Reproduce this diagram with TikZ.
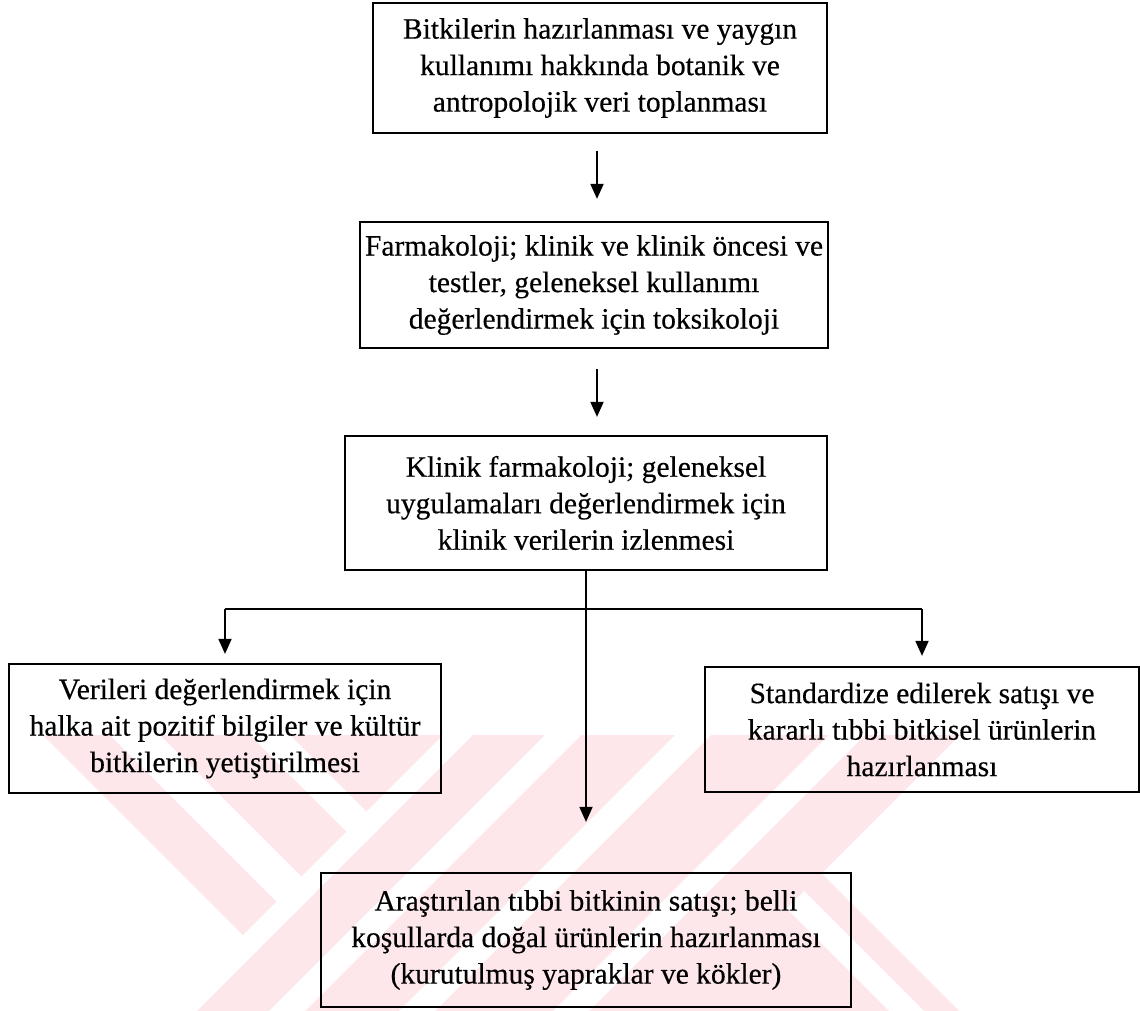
\documentclass[tikz,border=0pt]{standalone}
\usepackage{fontspec}
\setmainfont{Liberation Serif}[BoldFont=Liberation Serif, BoldFeatures={FakeBold=0.4}]
\usetikzlibrary{arrows.meta}
\definecolor{wmpink}{RGB}{253,231,235}
% band of "\" stripes between horizontal offsets #1 and #2
\newcommand\wmback[3]{\fill[#3] (#1+228,600) -- (#2+228,600) -- (#2+728,1100) -- (#1+728,1100) -- cycle;}
% band of "/" stripes between horizontal offsets #1 and #2
\newcommand\wmfwd[3]{\fill[#3] (#1+928,600) -- (#2+928,600) -- (#2+428,1100) -- (#1+428,1100) -- cycle;}
\begin{document}
\begin{tikzpicture}[x=1pt,y=-1pt,
  box/.style={draw=black, line width=2.2pt, align=center, inner sep=0pt,
    font=\fontsize{29.5}{36.5}\selectfont\bfseries},
  link/.style={line width=1.8pt},
  arr/.style={link, -{Triangle[width=13pt,length=15pt]}}]
\useasboundingbox (0,0) rectangle (1140,1011);

% light striped emblem in the lower part of the page
\begin{scope}
  \clip (0,735) rectangle (1140,1011);
  \wmback{-320}{320}{wmpink}
  \wmback{-253}{-203}{white}
  \wmback{-113}{-73}{white}
  \wmback{250}{285}{white}
  \wmfwd{-350}{-320}{white}
  \wmfwd{-320}{167}{wmpink}
  \wmfwd{-248}{-212}{white}
  \wmfwd{-118}{-82}{white}
  \wmfwd{36}{72}{white}
\end{scope}

% boxes
\node[box, minimum width=454pt, minimum height=130pt] (b1) at (600,68)
  {Bitkilerin hazırlanması ve yaygın\\kullanımı hakkında botanik ve\\antropolojik veri toplanması};
\node[box, minimum width=468pt, minimum height=126pt] (b2) at (594,285)
  {Farmakoloji; klinik ve klinik öncesi ve\\testler, geleneksel kullanımı\\değerlendirmek için toksikoloji};
\node[box, minimum width=482pt, minimum height=134pt] (b3) at (586,503)
  {Klinik farmakoloji; geleneksel\\uygulamaları değerlendirmek için\\klinik verilerin izlenmesi};
\node[box, minimum width=432pt, minimum height=129pt] (lb) at (225,728.5)
  {Verileri değerlendirmek için\\halka ait pozitif bilgiler ve kültür\\bitkilerin yetiştirilmesi};
\node[box, minimum width=434pt, minimum height=125pt] (rb) at (922,729.5)
  {Standardize edilerek satışı ve\\kararlı tıbbi bitkisel ürünlerin\\hazırlanması};
\node[box, minimum width=530pt, minimum height=134pt] (bb) at (586,940)
  {Araştırılan tıbbi bitkinin satışı; belli\\koşullarda doğal ürünlerin hazırlanması\\(kurutulmuş yapraklar ve kökler)};

% connectors
\draw[arr, shorten <=17pt, shorten >=22pt] (b1.south -| 597,0) -- (b2.north -| 597,0);
\draw[arr, shorten <=20pt, shorten >=18pt] (b2.south -| 597,0) -- (b3.north -| 597,0);
\draw[arr, shorten >=50pt] (b3.south) -- (bb.north);
\coordinate (jl) at (lb.north |- 0,609);
\coordinate (jr) at (rb.north |- 0,609);
\draw[link] (jl) -- (jr);
\draw[arr, shorten >=9pt] (jl) -- (lb.north);
\draw[arr, shorten >=10pt] (jr) -- (rb.north);
\end{tikzpicture}
\end{document}
